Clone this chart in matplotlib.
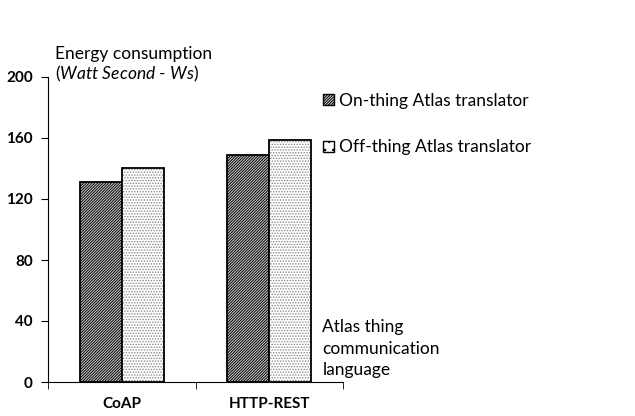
import matplotlib

matplotlib.use("Agg")

import matplotlib.pyplot as plt
import numpy as np
from matplotlib.patches import Patch

plt.rcParams["font.family"] = ["Lato", "DejaVu Sans"]
plt.rcParams["mathtext.fontset"] = "custom"
plt.rcParams["mathtext.it"] = "Lato:italic"
plt.rcParams["mathtext.rm"] = "Lato"
plt.rcParams["hatch.linewidth"] = 0.7

categories = ["CoAP", "HTTP-REST"]
on_thing = [131, 149]
off_thing = [140, 159]
series_labels = ["On-thing Atlas translator", "Off-thing Atlas translator"]
y_ticks = [0, 40, 80, 120, 160, 200]

fig = plt.figure(figsize=(6.35, 4.16), dpi=100)
ax = fig.add_axes([48 / 635, 1 - 382 / 416, 295 / 635, 305 / 416])

x = np.arange(len(categories))
w = 0.285
ax.bar(x - w / 2, on_thing, w, color="#d0d0d0", edgecolor="black",
       hatch="////////////", linewidth=1.3)
# dotted fill in grey, then a black outline on top
ax.bar(x + w / 2, off_thing, w, color="white", edgecolor="#8a8a8a",
       hatch="......", linewidth=0)
ax.bar(x + w / 2, off_thing, w, fill=False, edgecolor="black", linewidth=1.3)

ax.set_xlim(-0.5, 1.5)
ax.set_ylim(0, 200)
ax.set_yticks(y_ticks)
ax.set_yticklabels([str(t) for t in y_ticks], fontweight="bold", fontsize=11)
ax.set_xticks(x)
ax.set_xticklabels(categories, fontweight="bold", fontsize=11)
ax.tick_params(axis="x", length=0, pad=11)
ax.set_xticks([-0.5, 0.5, 1.5], minor=True)
ax.tick_params(axis="x", which="minor", length=5, direction="out")
ax.tick_params(axis="y", length=5, direction="out", pad=6)
for s in ["top", "right"]:
    ax.spines[s].set_visible(False)

ax.text(0.025, 1.05, "Energy consumption", transform=ax.transAxes,
        fontsize=12.5, va="bottom", ha="left")
ax.text(0.025, 0.978, r"($\it{Watt\ Second}$ - $\it{Ws}$)", transform=ax.transAxes,
        fontsize=12.5, va="bottom", ha="left")

ax.text(0.93, 0.205, "Atlas thing\ncommunication\nlanguage", transform=ax.transAxes,
        fontsize=12.5, va="top", ha="left", linespacing=1.4)

handles = [
    Patch(facecolor="#d0d0d0", edgecolor="black", hatch="////////////",
          linewidth=1.0, label=series_labels[0]),
    Patch(facecolor="white", edgecolor="black", hatch="..",
          linewidth=1.0, label=series_labels[1]),
]
ax.legend(handles=handles, loc="upper left", bbox_to_anchor=(0.91, 0.97),
          frameon=False, fontsize=12.5, handlelength=0.6, handleheight=0.6,
          handletextpad=0.3, labelspacing=1.75, borderaxespad=0)

fig.savefig("out.png", dpi=100)
